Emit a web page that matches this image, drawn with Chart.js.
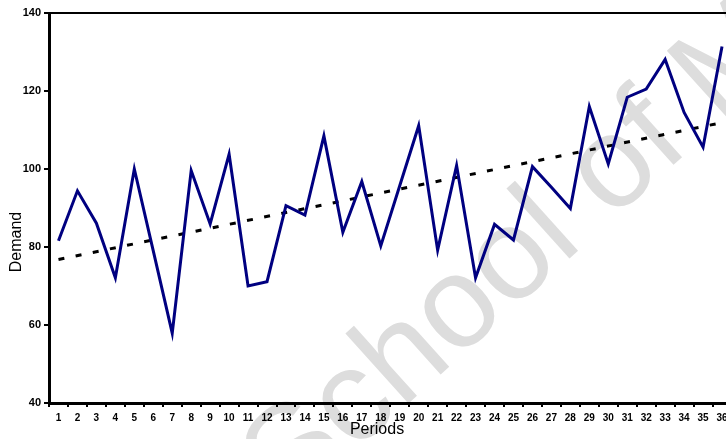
<!DOCTYPE html>
<html lang="en">
<head>
  <meta charset="UTF-8" />
  <title>Demand by Period</title>
  <script src="https://cdn.jsdelivr.net/npm/chart.js"></script>
  <style>
    html, body {
      margin: 0;
      padding: 0;
      background: #fff;
      overflow: hidden;
    }

    .wrap {
      width: 745px;
      height: 439px;
    }
  </style>
</head>
<body>
  <div class="wrap">
    <canvas id="demand-chart" width="745" height="439"></canvas>
  </div>

  <script>
    const periods = ['1', '2', '3', '4', '5', '6', '7', '8', '9', '10', '11', '12',
      '13', '14', '15', '16', '17', '18', '19', '20', '21', '22', '23', '24',
      '25', '26', '27', '28', '29', '30', '31', '32', '33', '34', '35', '36'];

    const demand = [81.6, 94.4, 86.1, 72.1, 100, 79, 57.9, 99.6, 85.9, 103.8, 70, 71.1,
      90.6, 88.2, 108.5, 83.8, 96.8, 80.3, 95.7, 111.1, 79.2, 100.9, 72.1, 85.8,
      81.8, 100.6, 95.3, 89.9, 116, 101.3, 118.4, 120.5, 128.1, 114.5, 105.6, 131.4];

    // linear trend, only the two end points are given
    const trendStart = 76.8;
    const trendEnd = 111.9;

    const yTicks = [40, 60, 80, 100, 120, 140];

    const FONT = "'Liberation Sans', Arial, sans-serif";

    const trend = periods.map((p, i) => {
      if (i === 0) return trendStart;
      if (i === periods.length - 1) return trendEnd;
      return null;
    });

    // watermark, axis titles and top frame line
    const extras = {
      id: 'extras',
      beforeDraw(chart) {
        const ctx = chart.ctx;
        ctx.save();
        ctx.translate(289, 511);
        ctx.rotate(-42 * Math.PI / 180);
        ctx.font = '130px ' + FONT;
        ctx.fillStyle = '#dddddd';
        ctx.textBaseline = 'alphabetic';
        ctx.fillText('School of Mines', 0, 0);
        ctx.restore();
      },
      afterDraw(chart) {
        const ctx = chart.ctx;
        const area = chart.chartArea;
        ctx.save();
        ctx.strokeStyle = '#000';
        ctx.lineWidth = 2;
        ctx.beginPath();
        ctx.moveTo(area.left, area.top);
        ctx.lineTo(area.right, area.top);
        ctx.stroke();

        ctx.fillStyle = '#000';
        ctx.font = '16px ' + FONT;
        ctx.textAlign = 'center';
        ctx.textBaseline = 'middle';
        ctx.fillText('Periods', 377, 430);

        ctx.translate(17, 242);
        ctx.rotate(-Math.PI / 2);
        ctx.fillText('Demand', 0, 0);
        ctx.restore();
      }
    };

    new Chart(document.getElementById('demand-chart'), {
      type: 'line',
      data: {
        labels: periods,
        datasets: [{
          label: 'Demand',
          data: demand,
          borderColor: '#000080',
          borderWidth: 3,
          pointRadius: 0,
          tension: 0,
          fill: false
        }, {
          label: 'Trend',
          data: trend,
          borderColor: '#000',
          borderWidth: 3,
          borderDash: [6, 11.5],
          pointRadius: 0,
          spanGaps: true,
          fill: false
        }]
      },
      options: {
        responsive: false,
        animation: false,
        layout: {
          padding: { top: 13, right: 13.5, left: 0, bottom: 0 }
        },
        plugins: {
          legend: { display: false },
          tooltip: { enabled: false }
        },
        scales: {
          x: {
            type: 'category',
            offset: true,
            afterFit(scale) { scale.height = 36; },
            grid: {
              offset: true,
              drawOnChartArea: false,
              drawTicks: true,
              tickLength: 4,
              color: '#000',
              lineWidth: 2
            },
            border: { color: '#000', width: 3 },
            ticks: {
              autoSkip: false,
              maxRotation: 0,
              padding: 5,
              color: '#000',
              font: { family: FONT, size: 10, weight: 'bold' }
            }
          },
          y: {
            min: 40,
            max: 140,
            afterFit(scale) { scale.width = 49; },
            afterBuildTicks(scale) {
              scale.ticks = yTicks.map(v => ({ value: v }));
            },
            grid: {
              drawOnChartArea: false,
              drawTicks: true,
              tickLength: 5,
              color: '#000',
              lineWidth: 2
            },
            border: { color: '#000', width: 3 },
            ticks: {
              padding: 3,
              color: '#000',
              font: { family: FONT, size: 11, weight: 'bold' }
            }
          }
        }
      },
      plugins: [extras]
    });
  </script>
</body>
</html>
